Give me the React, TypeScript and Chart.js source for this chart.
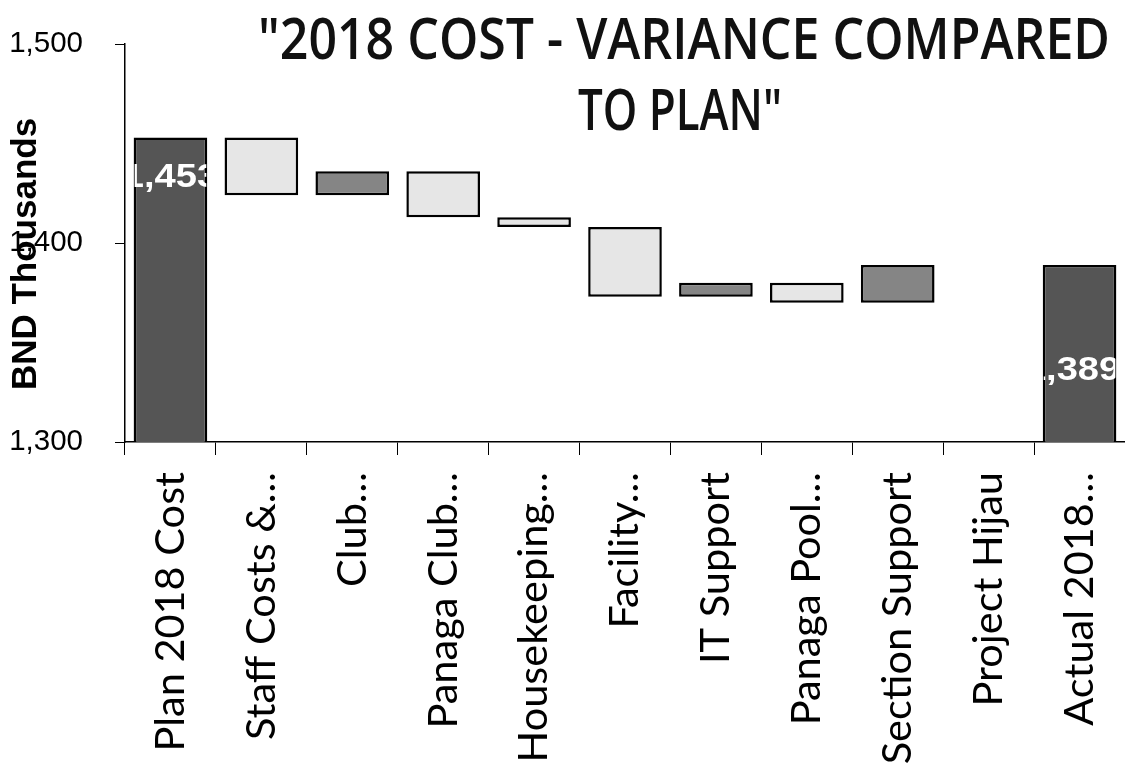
import React, { useEffect, useRef } from "react";
import { Chart, registerables } from "chart.js";

Chart.register(...registerables);

// ---- data ----
const categories = [
  "Plan 2018 Cost",
  "Staff Costs &…",
  "Club…",
  "Panaga Club…",
  "Housekeeping…",
  "Facility…",
  "IT Support",
  "Panaga Pool…",
  "Section Support",
  "Project Hijau",
  "Actual 2018…",
];
const planTotal = 1453;
// variances for Staff Costs … Project Hijau (BND thousands)
const variances = [-29, 12, -23, -5, -35, 7, -10, 19, 0];
const actualTotal = 1389;

const yMin = 1300;
const yMax = 1500;
const yStep = 100;
const yTickLabels = ["1,300", "1,400", "1,500"];

const totalLabels = ["1,453", "1,389"];
const totalLabelAt = [1433, 1336];

const titleLines = ['"2018 COST - VARIANCE COMPARED', 'TO PLAN"'];
const yAxisTitle = "BND Thousands";

// ---- styles ----
const DARK = "#555555";
const UP = "#858585";
const DOWN = "#e6e6e6";
const labelShift = [0, -7];

function buildBars() {
  const data: any[] = [planTotal];
  const colors: string[] = [DARK];
  let run = planTotal;
  for (const d of variances) {
    const next = run + d;
    if (d === 0) {
      data.push(null);
      colors.push(DOWN);
    } else {
      data.push([Math.min(run, next), Math.max(run, next)]);
      colors.push(d > 0 ? UP : DOWN);
    }
    run = next;
  }
  data.push(actualTotal);
  colors.push(DARK);
  return { data, colors };
}

const overlayPlugin = {
  id: "overlay",
  afterDatasetsDraw(chart: any) {
    const ctx = chart.ctx as CanvasRenderingContext2D;
    const meta = chart.getDatasetMeta(0);
    const yScale = chart.scales.y;
    const idx = [0, categories.length - 1];
    idx.forEach((i, k) => {
      const el = meta.data[i];
      if (!el) return;
      const { x, y, base, width } = el.getProps(["x", "y", "base", "width"], true);
      ctx.save();
      ctx.beginPath();
      ctx.rect(x - width / 2 + 1, Math.min(y, base), width - 2, Math.abs(base - y));
      ctx.clip();
      ctx.fillStyle = "#ffffff";
      ctx.font = 'bold 34px "Liberation Sans", Arial, sans-serif';
      ctx.textAlign = "center";
      ctx.textBaseline = "middle";
      ctx.translate(x + labelShift[k], yScale.getPixelForValue(totalLabelAt[k]));
      ctx.scale(1.12, 1);
      ctx.fillText(totalLabels[k], 0, 0);
      ctx.restore();
    });
  },
  afterDraw(chart: any) {
    const ctx = chart.ctx as CanvasRenderingContext2D;
    // title
    ctx.save();
    ctx.fillStyle = "#111";
    ctx.font = '600 58px "Open Sans", sans-serif';
    ctx.textBaseline = "alphabetic";
    ctx.textAlign = "center";
    const specs = [
      { text: titleLines[0], cx: 684, base: 59, w: 852 },
      { text: titleLines[1], cx: 680, base: 130, w: 204 },
    ];
    specs.forEach((s) => {
      const m = ctx.measureText(s.text).width;
      const sx = s.w / m;
      ctx.save();
      ctx.translate(s.cx, s.base);
      ctx.scale(sx, 1);
      ctx.fillText(s.text, 0, 0);
      ctx.restore();
    });
    ctx.restore();
    // y axis title
    ctx.save();
    ctx.translate(26, 254);
    ctx.rotate(-Math.PI / 2);
    ctx.fillStyle = "#000";
    ctx.font = 'bold 35px "Liberation Sans", Arial, sans-serif';
    ctx.textAlign = "center";
    ctx.textBaseline = "middle";
    ctx.fillText(yAxisTitle, 0, 0);
    ctx.restore();
  },
};

export default function App() {
  const ref = useRef<HTMLCanvasElement | null>(null);
  useEffect(() => {
    if (!ref.current) return;
    const { data, colors } = buildBars();
    const chart = new Chart(ref.current, {
      type: "bar",
      data: {
        labels: categories,
        datasets: [
          {
            data,
            backgroundColor: colors,
            borderColor: "#000",
            borderWidth: 2.5,
            borderSkipped: false,
            barPercentage: 0.81,
            categoryPercentage: 1,
          } as any,
        ],
      },
      options: {
        responsive: false,
        animation: false,
        layout: { padding: { top: 44, left: 0, right: 0, bottom: 0 } },
        plugins: {
          legend: { display: false },
          tooltip: { enabled: false },
          title: { display: false },
        },
        scales: {
          x: {
            grid: {
              offset: true,
              drawOnChartArea: false,
              drawTicks: true,
              tickLength: 13,
              color: "#000",
              lineWidth: 1,
            },
            border: { color: "#000", width: 1.5 },
            ticks: {
              minRotation: 90,
              maxRotation: 90,
              autoSkip: false,
              padding: 17,
              color: "#000",
              font: { family: "Lato", size: 41.5 },
            },
            afterFit: (s: any) => {
              s.height = 336;
              s.paddingLeft = 0;
              s.paddingRight = 0;
              s.paddingTop = 0;
              s.paddingBottom = 0;
            },
          },
          y: {
            min: yMin,
            max: yMax,
            ticks: {
              stepSize: yStep,
              padding: 32,
              color: "#000",
              font: { family: '"Liberation Sans", Arial', size: 29.5 },
              callback: (v: any) => yTickLabels[Math.round((Number(v) - yMin) / yStep)] ?? "",
            },
            grid: { drawOnChartArea: false, tickLength: 10, color: "#000" },
            border: { color: "#000", width: 1.5 },
            afterFit: (s: any) => {
              s.width = 125;
              s.paddingTop = 0;
              s.paddingBottom = 0;
              s.paddingLeft = 0;
              s.paddingRight = 0;
            },
          },
        },
      },
      plugins: [overlayPlugin],
    });
    return () => chart.destroy();
  }, []);
  return (
    <div style={{ position: "absolute", left: 0, top: 0, width: 1125, height: 778, background: "#fff" }}>
      <canvas ref={ref} width={1125} height={778} style={{ display: "block" }} />
    </div>
  );
}
